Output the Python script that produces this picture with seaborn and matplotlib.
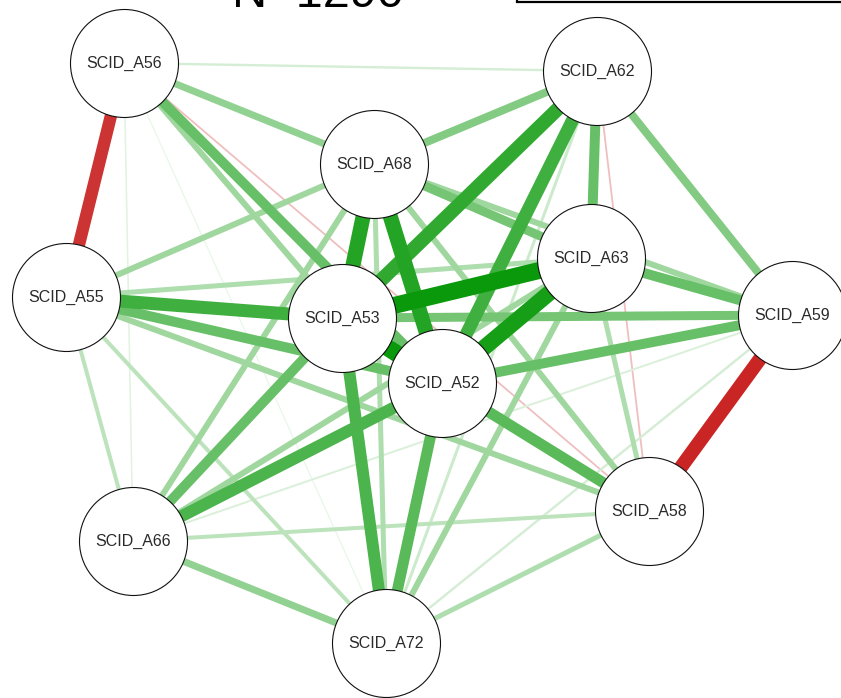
import numpy as np
import pandas as pd
import seaborn as sns
import matplotlib
matplotlib.use("Agg")
import matplotlib.pyplot as plt
from matplotlib.patches import Rectangle

# Node layout (canvas units) and labels
nodes = ["SCID_A56", "SCID_A62", "SCID_A68", "SCID_A63", "SCID_A55", "SCID_A53",
         "SCID_A59", "SCID_A52", "SCID_A58", "SCID_A66", "SCID_A72"]
node_x = [124, 597, 374, 591, 66, 342, 792, 442, 649, 133, 386]
node_y = [63, 71, 164, 258, 297, 318, 315, 383, 511, 541, 643]

# Partial correlation edges: source, target, weight
edge_from = ["SCID_A63", "SCID_A52", "SCID_A63", "SCID_A68", "SCID_A68", "SCID_A62",
             "SCID_A62", "SCID_A55", "SCID_A53", "SCID_A66", "SCID_A52", "SCID_A52",
             "SCID_A62", "SCID_A66", "SCID_A55", "SCID_A52", "SCID_A63", "SCID_A56",
             "SCID_A53", "SCID_A68", "SCID_A62", "SCID_A68", "SCID_A56", "SCID_A55",
             "SCID_A66", "SCID_A55", "SCID_A66", "SCID_A66", "SCID_A72", "SCID_A68",
             "SCID_A68", "SCID_A56", "SCID_A53", "SCID_A55", "SCID_A68", "SCID_A63",
             "SCID_A72", "SCID_A66", "SCID_A55", "SCID_A55", "SCID_A72", "SCID_A72",
             "SCID_A56", "SCID_A66", "SCID_A56", "SCID_A56", "SCID_A56", "SCID_A59",
             "SCID_A56", "SCID_A62"]
edge_to = ["SCID_A53", "SCID_A53", "SCID_A52", "SCID_A53", "SCID_A52", "SCID_A53",
           "SCID_A52", "SCID_A53", "SCID_A72", "SCID_A52", "SCID_A72", "SCID_A58",
           "SCID_A63", "SCID_A53", "SCID_A52", "SCID_A59", "SCID_A59", "SCID_A52",
           "SCID_A59", "SCID_A63", "SCID_A59", "SCID_A62", "SCID_A68", "SCID_A68",
           "SCID_A72", "SCID_A58", "SCID_A68", "SCID_A63", "SCID_A63", "SCID_A59",
           "SCID_A58", "SCID_A53", "SCID_A58", "SCID_A63", "SCID_A72", "SCID_A58",
           "SCID_A58", "SCID_A58", "SCID_A72", "SCID_A66", "SCID_A62", "SCID_A59",
           "SCID_A62", "SCID_A59", "SCID_A66", "SCID_A72", "SCID_A55", "SCID_A58",
           "SCID_A58", "SCID_A58"]
edge_weight = [0.85, 0.85, 0.80, 0.75, 0.75, 0.70,
               0.65, 0.65, 0.60, 0.60, 0.55, 0.55,
               0.50, 0.50, 0.50, 0.50, 0.50, 0.50,
               0.45, 0.45, 0.40, 0.40, 0.35, 0.30,
               0.35, 0.30, 0.30, 0.30, 0.30, 0.30,
               0.30, 0.30, 0.30, 0.25, 0.25, 0.25,
               0.25, 0.20, 0.20, 0.20, 0.15, 0.12,
               0.12, 0.10, 0.08, 0.06, -0.62, -0.70,
               -0.09, -0.09]

title_text = "N=1290"

W, H, DPI = 841, 698, 100
sns.set_theme(style="white")
plt.rcParams["font.family"] = ["Liberation Sans", "DejaVu Sans"]

fig = plt.figure(figsize=(W / DPI, H / DPI), dpi=DPI)
ax = fig.add_axes([0, 0, 1, 1])
ax.set_xlim(0, W)
ax.set_ylim(H, 0)
ax.set_axis_off()

pos = pd.DataFrame({"node": nodes, "x": node_x, "y": node_y}).set_index("node")
edges = pd.DataFrame({"a": edge_from, "b": edge_to, "w": edge_weight})
edges["absw"] = edges["w"].abs()
edges = edges.sort_values("absw")

max_w = 0.85
pos_col = np.array([0.04, 0.60, 0.04])
neg_col = np.array([0.76, 0.04, 0.04])
white = np.ones(3)
px2pt = 72.0 / DPI

for _, e in edges.iterrows():
    base = pos_col if e.w > 0 else neg_col
    gamma = 0.9 if e.w > 0 else 0.6
    t = min(1.0, e.absw / max_w) ** gamma
    col = white * (1 - t) + base * t
    width_px = max(1.2, 20 * e.absw)
    xa, ya = pos.loc[e.a, ["x", "y"]]
    xb, yb = pos.loc[e.b, ["x", "y"]]
    ax.plot([xa, xb], [ya, yb], color=col, lw=width_px * px2pt,
            solid_capstyle="butt", zorder=1)

# Nodes as white circles with thin dark outline
radius_px = 54
diam_pt = 2 * radius_px * px2pt
sns.scatterplot(data=pos.reset_index(), x="x", y="y", ax=ax, s=diam_pt ** 2,
                color="white", edgecolor="#111111", linewidth=0.8, zorder=3,
                legend=False, clip_on=False)
for name, row in pos.iterrows():
    ax.text(row.x, row.y, name, ha="center", va="center", fontsize=11.5,
            color="#2a2a2a", zorder=4)

# Sample-size title and legend frame along the top edge
ax.text(232, 7, title_text, ha="left", va="baseline", fontsize=35,
        color="black", zorder=5, clip_on=True)
ax.add_patch(Rectangle((517, -60), 340, 61.5, fill=False, edgecolor="black",
                       lw=1.6, zorder=5))

fig.savefig("out.png", dpi=DPI)
